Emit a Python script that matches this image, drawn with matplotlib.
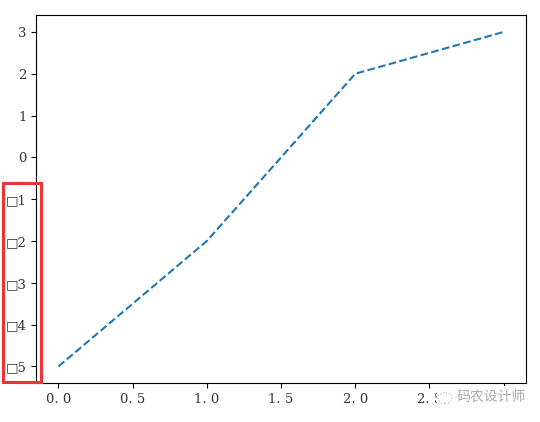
import matplotlib
matplotlib.use('Agg')
import matplotlib.pyplot as plt
from matplotlib.patches import Rectangle, Circle

plt.rcParams['font.family'] = ['DejaVu Serif', 'Noto Sans CJK SC']
plt.rcParams['axes.unicode_minus'] = True

# 数据
x = [0, 1, 2, 3]
y = [-5, -2, 2, 3]
x_ticks = [0.0, 0.5, 1.0, 1.5, 2.0, 2.5, 3.0]
x_tick_labels = ['0. 0', '0. 5', '1. 0', '1. 5', '2. 0', '2. 5', '3. 0']
y_ticks = [-5, -4, -3, -2, -1, 0, 1, 2, 3]
# 负号缺字显示为方框
y_tick_labels = ['\u25a15', '\u25a14', '\u25a13', '\u25a12', '\u25a11', '0', '1', '2', '3']

fig = plt.figure(figsize=(5.4, 4.22), dpi=100)
ax = fig.add_axes([0.067, 0.092, 0.907, 0.872])
ax.plot(x, y, '--', color='#1f77b4', linewidth=1.5)

ax.set_xticks(x_ticks)
ax.set_xticklabels(x_tick_labels, fontsize=9.5, color='#333333')
ax.set_yticks(y_ticks)
ax.set_yticklabels(y_tick_labels, fontsize=9.5, color='#333333')

# 红框标注
fig.patches.append(Rectangle((3 / 540, 1 - 382 / 422), 38 / 540, 199 / 422,
                             transform=fig.transFigure, fill=False,
                             edgecolor='#ee3333', linewidth=2.2))

# 水印（白底盖住部分刻度标签）
fig.patches.append(Rectangle((437 / 540, 1 - 410 / 422), 95 / 540, 24 / 422,
                             transform=fig.transFigure, facecolor='white',
                             edgecolor='none', zorder=5))
fig.patches.append(Circle((445 / 540, 1 - 398 / 422), 7 / 540,
                          transform=fig.transFigure, fill=False,
                          edgecolor='#bbbbbb', linewidth=0.8,
                          linestyle=':', zorder=6))
fig.text(457 / 540, 1 - 397 / 422, '码农设计师', fontsize=10, color='#aaaaaa',
         family=['Noto Sans CJK SC'], ha='left', va='center', zorder=7)

fig.savefig('out.png', dpi=100, facecolor='white')
